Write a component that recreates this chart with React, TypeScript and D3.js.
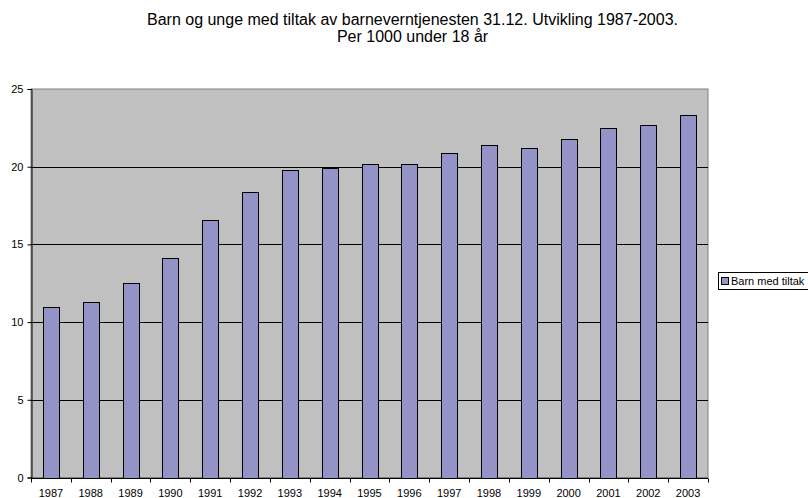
import React, { useEffect, useRef } from 'react';
import * as d3 from 'd3';

const years = ['1987', '1988', '1989', '1990', '1991', '1992', '1993', '1994', '1995', '1996', '1997', '1998', '1999', '2000', '2001', '2002', '2003'];
const barnMedTiltak = [11.0, 11.3, 12.5, 14.1, 16.6, 18.4, 19.8, 19.9, 20.2, 20.2, 20.9, 21.4, 21.2, 21.8, 22.5, 22.7, 23.3];
const yTicks = [0, 5, 10, 15, 20, 25];
const titleLines = ['Barn og unge med tiltak av barneverntjenesten 31.12. Utvikling 1987-2003.', 'Per 1000 under 18 år'];
const seriesName = 'Barn med tiltak';

const width = 808;
const height = 498;

const App: React.FC = () => {
  const svgRef = useRef<SVGSVGElement>(null);

  useEffect(() => {
    if (!svgRef.current) return;
    const svg = d3.select(svgRef.current);
    svg.selectAll('*').remove();

    const font = '"Liberation Sans", Arial, sans-serif';
    const plot = { left: 31, right: 708, top: 89, bottom: 477.5 };

    // Title
    svg.append('text')
      .attr('x', 412.5)
      .attr('y', 25)
      .attr('text-anchor', 'middle')
      .attr('font-family', font)
      .attr('font-size', '16px')
      .attr('fill', '#000')
      .selectAll('tspan')
      .data(titleLines)
      .enter()
      .append('tspan')
      .attr('x', 412.5)
      .attr('dy', (_, i) => (i === 0 ? 0 : 17))
      .text(d => d);

    const xScale = d3.scaleBand<string>()
      .domain(years)
      .range([plot.left, plot.right])
      .paddingInner(0.6)
      .paddingOuter(0.3);

    const yScale = d3.scaleLinear()
      .domain([0, 25])
      .range([plot.bottom, plot.top]);

    // Plot area
    svg.append('rect')
      .attr('x', plot.left)
      .attr('y', plot.top)
      .attr('width', plot.right - plot.left)
      .attr('height', plot.bottom - plot.top)
      .attr('fill', '#c0c0c0')
      .attr('stroke', '#808080')
      .attr('stroke-width', 1);

    // Grid lines
    svg.append('g')
      .selectAll('line')
      .data(yTicks.filter(t => t > 0 && t < 25))
      .enter()
      .append('line')
      .attr('x1', plot.left)
      .attr('x2', plot.right)
      .attr('y1', d => Math.round(yScale(d)) + 0.5)
      .attr('y2', d => Math.round(yScale(d)) + 0.5)
      .attr('stroke', '#000')
      .attr('stroke-width', 1);

    // Bars
    svg.append('g')
      .selectAll('rect')
      .data(barnMedTiltak)
      .enter()
      .append('rect')
      .attr('x', (_, i) => Math.round(xScale(years[i])!) + 0.5)
      .attr('y', d => Math.round(yScale(d)) + 0.5)
      .attr('width', Math.round(xScale.bandwidth()))
      .attr('height', d => Math.round(plot.bottom) - Math.round(yScale(d)))
      .attr('fill', '#9393c8')
      .attr('stroke', '#000')
      .attr('stroke-width', 1);

    // Y axis
    const yAxis = svg.append('g')
      .attr('transform', `translate(${plot.left + 0.5},0)`)
      .call(d3.axisLeft(yScale).tickValues(yTicks).tickSize(4).tickPadding(4));
    yAxis.select('.domain').attr('stroke', '#000');
    yAxis.selectAll('line').attr('stroke', '#000');
    yAxis.selectAll('text')
      .attr('font-family', font)
      .attr('font-size', '11px')
      .attr('fill', '#000');

    // X axis
    const xAxisG = svg.append('g')
      .attr('transform', `translate(0,${Math.round(plot.bottom) + 0.5})`);
    xAxisG.append('line')
      .attr('x1', plot.left)
      .attr('x2', plot.right)
      .attr('stroke', '#000');
    const step = xScale.step();
    xAxisG.selectAll('line.tick')
      .data(d3.range(years.length + 1))
      .enter()
      .append('line')
      .attr('class', 'tick')
      .attr('x1', i => Math.round(plot.left + i * step) + 0.5)
      .attr('x2', i => Math.round(plot.left + i * step) + 0.5)
      .attr('y1', 0)
      .attr('y2', 4)
      .attr('stroke', '#000');
    xAxisG.selectAll('text')
      .data(years)
      .enter()
      .append('text')
      .attr('x', d => xScale(d)! + xScale.bandwidth() / 2)
      .attr('y', 18)
      .attr('text-anchor', 'middle')
      .attr('font-family', font)
      .attr('font-size', '11px')
      .attr('fill', '#000')
      .text(d => d);

    // Legend
    const legend = svg.append('g').attr('transform', 'translate(718.5,272.5)');
    legend.append('rect')
      .attr('width', 100)
      .attr('height', 17)
      .attr('fill', '#fff')
      .attr('stroke', '#000');
    legend.append('rect')
      .attr('x', 3)
      .attr('y', 5)
      .attr('width', 7)
      .attr('height', 7)
      .attr('fill', '#9393c8')
      .attr('stroke', '#000');
    legend.append('text')
      .attr('x', 12.5)
      .attr('y', 12.5)
      .attr('font-family', font)
      .attr('font-size', '11px')
      .attr('fill', '#000')
      .text(seriesName);
  }, []);

  return (
    <svg
      ref={svgRef}
      width={width}
      height={height}
      style={{ position: 'absolute', left: 0, top: 0, display: 'block', background: '#fff' }}
    />
  );
};

export default App;
